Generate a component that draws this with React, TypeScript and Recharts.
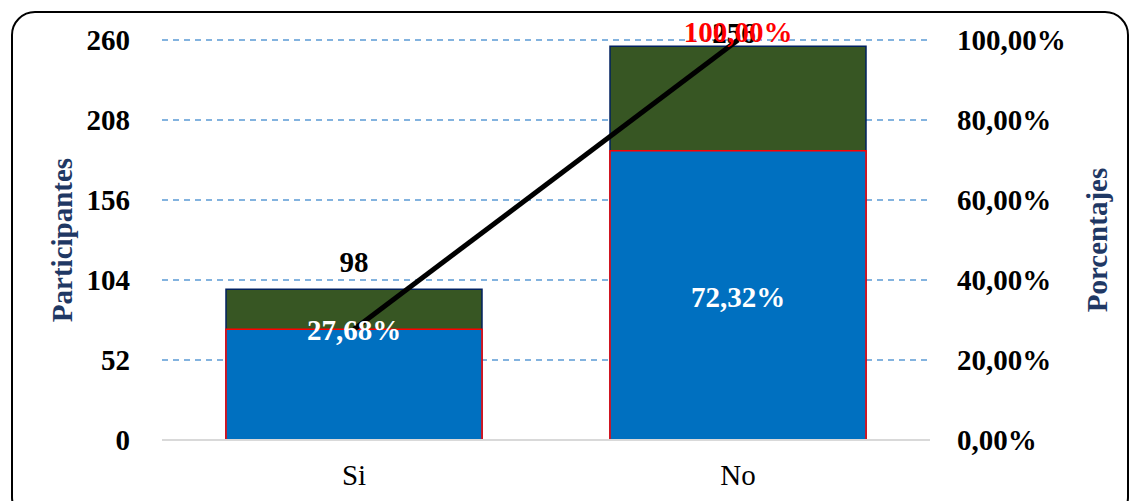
import React from "react";
import { ComposedChart, Bar, Line, XAxis, YAxis, CartesianGrid, LabelList, Label } from "recharts";

const categories = ["Si", "No"];
const participants = [98, 256];
const percentages = [27.68, 72.32];
const cumulative = [27.68, 100];
const leftTicks = [0, 52, 104, 156, 208, 260];
const rightTicks = [0, 20, 40, 60, 80, 100];

const data = categories.map((c, i) => ({
  name: c,
  count: participants[i],
  pct: percentages[i],
  cum: cumulative[i],
}));

const FONT = "'Liberation Serif', 'Times New Roman', serif";
const FS = 29;
const PLOT_TOP = 40;
const fmtPct = (v: number) => v.toFixed(2).replace(".", ",") + "%";

const CountLabel = (props: any) => {
  const { x, y, width, value } = props;
  const clamped = y - 17 < PLOT_TOP + 3;
  const baseline = clamped ? PLOT_TOP + 3 : y - 17;
  return (
    <text x={x + width / 2 - (clamped ? 4 : 0)} y={baseline} textAnchor="middle" fontFamily={FONT} fontWeight="bold" fontSize={FS} fill="#000">
      {value}
    </text>
  );
};

const PctLabel = (props: any) => {
  const { x, y, width, height, value, index } = props;
  if (index === 0) return null;
  return (
    <text x={x + width / 2} y={y + height / 2 + 2} textAnchor="middle" dominantBaseline="central" fontFamily={FONT} fontWeight="bold" fontSize={FS} fill="#fff">
      {fmtPct(value)}
    </text>
  );
};

const LineLabel = (props: any) => {
  const { x, y, value, index } = props;
  if (index === 0) {
    return (
      <text x={x} y={y + 1} textAnchor="middle" dominantBaseline="central" fontFamily={FONT} fontWeight="bold" fontSize={FS} fill="#fff">
        {fmtPct(value)}
      </text>
    );
  }
  return (
    <text x={x} y={y - 8} textAnchor="middle" dominantBaseline="central" fontFamily={FONT} fontWeight="bold" fontSize={FS} fill="#FF0000">
      {fmtPct(value)}
    </text>
  );
};

const LeftTitle = (props: any) => {
  const vb = props.viewBox || { x: 0, y: 40, width: 162, height: 400 };
  const cx = vb.x + 62;
  const cy = vb.y + vb.height / 2;
  return (
    <text x={cx} y={cy} transform={`rotate(-90 ${cx} ${cy})`} textAnchor="middle" dominantBaseline="central" fontFamily={FONT} fontWeight="bold" fontSize={FS} fill="#1F3864">
      Participantes
    </text>
  );
};

const RightTitle = (props: any) => {
  const vb = props.viewBox || { x: 930, y: 40, width: 200, height: 400 };
  const cx = vb.x + 167;
  const cy = vb.y + vb.height / 2;
  return (
    <text x={cx} y={cy} transform={`rotate(-90 ${cx} ${cy})`} textAnchor="middle" dominantBaseline="central" fontFamily={FONT} fontWeight="bold" fontSize={FS} fill="#1F3864">
      Porcentajes
    </text>
  );
};

export default function App() {
  return (
    <div style={{ position: "absolute", left: 0, top: 0, width: 1130, height: 501, background: "#fff", overflow: "hidden" }}>
      <div
        style={{
          position: "absolute",
          left: 11,
          top: 11,
          width: 1118,
          height: 510,
          border: "2px solid #000",
          borderRadius: 24,
          boxSizing: "border-box",
        }}
      />
      <div style={{ position: "absolute", left: 0, top: 0 }}>
        <ComposedChart width={1130} height={501} data={data} margin={{ top: PLOT_TOP, right: 0, bottom: 0, left: 0 }} barGap={-256}>
          <CartesianGrid vertical={false} stroke="#5B9BD5" strokeDasharray="6 5" strokeWidth={1.3} yAxisId="left" />
          <XAxis
            dataKey="name"
            height={61}
            tickSize={0}
            tickMargin={24}
            axisLine={{ stroke: "#D9D9D9", strokeWidth: 2 }}
            tickLine={false}
            tick={{ fontFamily: FONT, fontSize: FS, fill: "#000" }}
          />
          <YAxis
            yAxisId="left"
            width={162}
            domain={[0, 260]}
            ticks={leftTicks}
            axisLine={false}
            tickLine={false}
            tickSize={0}
            tickMargin={32}
            tick={{ fontFamily: FONT, fontSize: FS, fontWeight: "bold", fill: "#000" }}
          >
            <Label content={<LeftTitle />} />
          </YAxis>
          <YAxis
            yAxisId="right"
            orientation="right"
            width={200}
            domain={[0, 100]}
            ticks={rightTicks}
            axisLine={false}
            tickLine={false}
            tickSize={0}
            tickMargin={27}
            tickFormatter={(v: number) => fmtPct(v)}
            tick={{ fontFamily: FONT, fontSize: FS, fontWeight: "bold", fill: "#000" }}
          >
            <Label content={<RightTitle />} />
          </YAxis>
          <Bar yAxisId="left" dataKey="count" barSize={256} fill="#375623" stroke="#002060" strokeWidth={1.5} isAnimationActive={false}>
            <LabelList dataKey="count" content={<CountLabel />} />
          </Bar>
          <Bar yAxisId="right" dataKey="pct" barSize={256} fill="#0070C0" stroke="#FF0000" strokeWidth={1.5} isAnimationActive={false}>
            <LabelList dataKey="pct" content={<PctLabel />} />
          </Bar>
          <Line yAxisId="right" dataKey="cum" stroke="#000" strokeWidth={5} dot={false} activeDot={false} isAnimationActive={false}>
            <LabelList dataKey="cum" content={<LineLabel />} />
          </Line>
        </ComposedChart>
      </div>
    </div>
  );
}
